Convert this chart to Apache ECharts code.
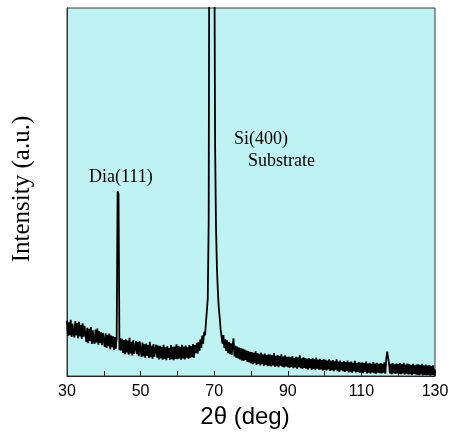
<!DOCTYPE html>
<html>
<head>
<meta charset="utf-8">
<script src="https://cdn.jsdelivr.net/npm/echarts@6/dist/echarts.min.js"></script>
<style>html,body{margin:0;padding:0;background:#fff;}#c{width:453px;height:435px;}</style>
</head>
<body>
<div id="c"></div>
<script>
// 2theta sampling grid (deg)
var angleStart = 30;
var angleStep = 0.25;
// Intensity (a.u.), one value per 0.25 deg from 30 to 130
var intensity = [
15.0,10.9,14.6,11.1,15.3,10.6,14.2,11.4,10.5,14.9,11.0,14.4,10.2,14.7,10.8,13.9,10.1,14.3,10.7,13.6,
13.4,9.3,13.1,8.9,12.8,9.5,13.3,8.7,12.4,9.6,8.8,12.6,9.1,12.9,8.5,12.2,9.0,11.9,8.4,11.7,
11.9,7.9,11.6,7.6,11.2,8.1,11.5,7.3,11.0,7.8,10.8,7.1,10.6,7.4,10.4,50.2,49.5,7.0,10.3,6.9,
10.1,6.3,9.8,5.9,10.0,6.4,9.6,5.8,10.4,6.1,9.3,5.6,9.7,6.0,5.7,9.5,5.9,9.2,5.4,9.4,
8.9,5.2,9.1,5.4,8.6,5.0,8.8,5.5,8.4,4.9,9.3,5.1,8.2,4.7,8.7,5.3,4.8,8.5,5.0,8.3,
4.5,8.2,4.8,7.9,4.4,8.5,4.7,7.8,4.3,8.1,4.9,7.6,4.4,8.4,4.6,7.9,4.3,8.0,4.7,8.6,
4.6,8.2,4.8,7.9,4.4,8.5,4.8,8.0,4.5,8.3,5.0,7.8,4.7,8.4,4.9,8.1,5.1,8.7,5.0,8.4,
6.2,9.0,6.1,9.2,6.8,10.0,7.6,11.0,8.8,12.0,11.0,14.4,14.6,21.0,42,160,400,400,400,400,
130,62,40,29,23,18.5,15.8,12.6,12.2,8.8,11.1,7.6,10.0,6.8,9.7,6.2,9.3,5.9,8.9,5.7,
8.4,10.2,5.3,8.2,4.9,8.0,4.8,7.7,4.5,7.6,4.2,7.4,4.1,7.2,4.4,6.9,3.8,6.8,3.7,6.6,
3.4,6.5,3.2,6.3,3.5,6.7,3.0,6.2,3.3,6.0,2.9,6.4,3.2,5.8,2.8,6.1,3.1,5.7,2.7,5.9,
2.8,5.8,2.6,5.6,2.9,6.2,2.5,5.5,2.7,5.7,2.4,5.4,2.8,5.9,2.5,5.3,2.3,5.6,2.6,5.2,
2.4,5.3,2.2,5.1,2.5,5.4,2.1,4.9,2.3,5.2,2.0,5.0,2.4,5.6,2.1,4.8,1.9,5.1,2.2,4.9,
2.0,4.7,1.8,4.9,2.1,4.6,1.7,4.8,1.9,4.5,1.6,5.0,2.0,4.4,1.7,4.7,1.8,4.3,1.5,4.6,
1.7,4.4,1.5,4.2,1.8,4.6,1.4,4.1,1.6,4.3,1.3,4.0,1.7,4.5,1.4,3.9,1.2,4.2,1.5,3.8,
1.3,4.0,1.1,3.8,1.4,4.2,1.0,3.7,1.2,3.9,0.9,3.6,1.3,4.1,1.0,3.5,1.1,3.8,0.9,3.6,
1.0,3.7,0.8,3.5,1.1,3.9,0.7,3.4,0.9,3.6,0.7,3.3,1.0,3.8,0.8,3.4,0.6,3.6,0.9,3.3,
0.8,3.5,0.7,3.3,0.9,3.7,0.6,4.6,6.6,5.0,3.4,0.7,3.3,0.5,3.5,0.8,3.2,0.6,3.4,0.7,
3.3,0.6,3.5,0.5,3.2,0.7,3.6,0.4,3.1,0.6,3.4,0.4,3.2,0.5,3.0,0.3,3.3,0.6,2.9,0.4,
3.1,0.3,3.2,0.2,3.0,0.4,3.3,0.2,2.9,0.3,3.1,0.2,2.8,0.3,3.0,0.1,2.7,0.3,2.9,0.2,
1.8
];
var xTickLabels = [30, 50, 70, 90, 110, 130];
var peakLabels = ['Dia(111)', 'Si(400)', 'Substrate'];

var seriesData = intensity.map(function (v, i) { return [angleStart + i * angleStep, v]; });

var chart = echarts.init(document.getElementById('c'), null, {renderer: 'canvas'});
chart.setOption({
  animation: false,
  backgroundColor: '#ffffff',
  grid: {
    left: 67, right: 18, top: 8, bottom: 59,
    show: true, backgroundColor: '#bff2f3', borderColor: '#3a3a3a', borderWidth: 1
  },
  xAxis: {
    type: 'value', min: 30, max: 130, interval: 10,
    name: '2\u03b8 (deg)', nameLocation: 'middle', nameGap: 22,
    nameTextStyle: {fontFamily: 'Liberation Sans, Arial, sans-serif', fontSize: 24, color: '#000', padding: [0, 12, 0, 0]},
    axisLine: {show: true, lineStyle: {color: '#222', width: 1}},
    axisTick: {show: true, inside: true, length: 5, lineStyle: {color: '#222'}},
    splitLine: {show: false},
    axisLabel: {
      margin: 8, fontFamily: 'Liberation Sans, Arial, sans-serif', fontSize: 16, color: '#000',
      formatter: function (v) { return xTickLabels.indexOf(v) >= 0 ? String(v) : ''; }
    }
  },
  yAxis: {
    type: 'value', min: 0, max: 100,
    name: 'Intensity (a.u.)', nameLocation: 'middle', nameGap: 32,
    nameTextStyle: {fontFamily: 'Liberation Serif, Times New Roman, serif', fontSize: 25, color: '#000', padding: [0, 0, 0, 6]},
    axisLine: {show: true, lineStyle: {color: '#333'}},
    axisTick: {show: false}, axisLabel: {show: false}, splitLine: {show: false}
  },
  series: [{
    type: 'line', data: seriesData, symbol: 'none', clip: true,
    lineStyle: {color: '#000', width: 1.8}
  }],
  graphic: [
    {type: 'text', left: 89, top: 168, style: {text: peakLabels[0], font: '18px "Liberation Serif", serif', fill: '#000'}},
    {type: 'text', left: 234, top: 130, style: {text: peakLabels[1], font: '18px "Liberation Serif", serif', fill: '#000'}},
    {type: 'text', left: 248, top: 152, style: {text: peakLabels[2], font: '18px "Liberation Serif", serif', fill: '#000'}}
  ]
});
</script>
</body>
</html>
